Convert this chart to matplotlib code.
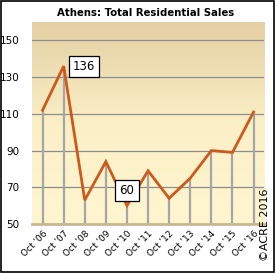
import numpy as np
import matplotlib.pyplot as plt
from matplotlib.colors import LinearSegmentedColormap

labels = ["Oct '06", "Oct '07", "Oct '08", "Oct '09", "Oct '10", "Oct '11",
          "Oct '12", "Oct '13", "Oct '14", "Oct '15", "Oct '16"]
sales = [112, 136, 63, 84, 60, 79, 64, 75, 90, 89, 111]
yticks = [50, 70, 90, 110, 130, 150]

x = np.arange(len(labels))

fig = plt.figure(figsize=(2.75, 2.73), dpi=100)
ax = fig.add_axes([0.1164, 0.1795, 0.844, 0.7395])

# background gradient, tan at top fading to pale yellow
cmap = LinearSegmentedColormap.from_list('bg', ['#fff6d0', '#fbefc6', '#e4d0a4'])
grad = np.linspace(0, 1, 256).reshape(-1, 1)
ax.imshow(grad, cmap=cmap, aspect='auto', origin='lower',
          extent=[-0.5, 10.5, 50, 160], zorder=0)

for yv in yticks:
    ax.axhline(yv, color='#8c8c8c', lw=0.9, zorder=1)

ax.vlines(x, 50, sales, color='#a6a6a6', lw=1.6, zorder=2)
ax.plot(x, sales, color='#cc5a1c', lw=2.0, zorder=3, solid_joinstyle='miter')

bbox = dict(boxstyle='square,pad=0.35', fc='white', ec='black', lw=0.9)
ax.text(1.96, 136, '136', fontsize=8.5, bbox=bbox, va='center', ha='center', zorder=4)
ax.text(4.0, 68.2, '60', fontsize=8.5, bbox=bbox, va='center', ha='center', zorder=4)

ax.set_xlim(-0.5, 10.5)
ax.set_ylim(50, 160)
ax.set_yticks(yticks)
ax.set_yticklabels([str(v) for v in yticks], fontsize=7.5)
ax.set_xticks(x)
ax.set_xticklabels(labels, rotation=45, ha='right', rotation_mode='anchor', fontsize=6.5)
ax.tick_params(axis='y', length=0, pad=9)
ax.tick_params(axis='x', length=0, pad=4)
for s in ['top', 'right', 'left']:
    ax.spines[s].set_visible(False)
ax.spines['bottom'].set_color('#c8b890')
ax.spines['bottom'].set_linewidth(2)

fig.text(0.53, 0.953, 'Athens: Total Residential Sales', ha='center', va='center',
         fontsize=7.3, fontweight='bold')
fig.text(0.963, 0.044, '\u00a9ACRE 2016', rotation=90, ha='center', va='bottom', fontsize=8)

fig.patches.append(plt.Rectangle((0.002, 0.002), 0.994, 0.994, transform=fig.transFigure,
                                 fill=False, ec='black', lw=1.2))

fig.savefig('out.png', dpi=100)
